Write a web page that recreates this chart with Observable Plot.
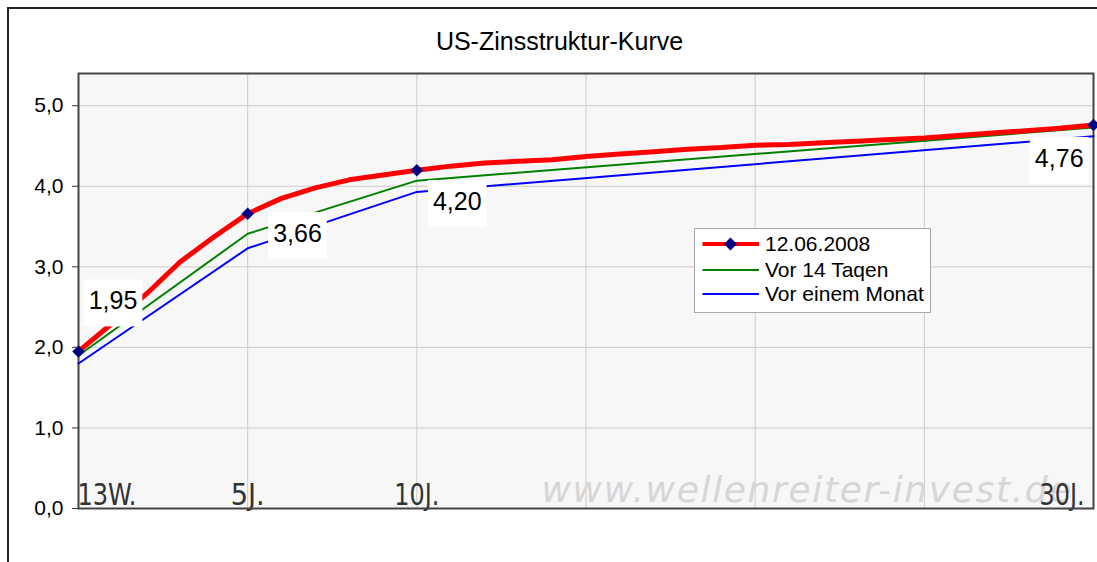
<!DOCTYPE html>
<html>
<head>
<meta charset="utf-8">
<script src="https://cdn.jsdelivr.net/npm/d3@7"></script>
<script src="https://cdn.jsdelivr.net/npm/@observablehq/plot@0.6"></script>
<style>
  html, body { margin: 0; padding: 0; background: #fff; overflow: hidden; width: 1097px; height: 562px; }
  #outer { position: absolute; left: 7px; top: 7px; width: 1300px; height: 800px; border: 2px solid #222; box-sizing: border-box; }
  #chart { position: absolute; left: 0; top: 0; }
  #legend { position: absolute; left: 694px; top: 228px; }
</style>
</head>
<body>
<div id="outer"></div>
<div id="chart"></div>
<div id="legend"></div>
<script>
// ---- data ----
const maturities = ["13W","1J","2J","3J","4J","5J","6J","7J","8J","9J","10J","11J","12J","13J","14J","15J",
  "16J","17J","18J","19J","20J","21J","22J","23J","24J","25J","26J","27J","28J","29J","30J"];
const currentValues = [1.95, 2.30, 2.66, 3.06, 3.37, 3.66, 3.85, 3.98, 4.08, 4.14, 4.20, 4.25, 4.29, 4.31, 4.33, 4.37,
  4.40, 4.43, 4.46, 4.48, 4.51, 4.52, 4.54, 4.56, 4.58, 4.60, 4.63, 4.66, 4.69, 4.72, 4.76];
const keyMaturities = ["13W", "5J", "10J", "30J"];
const twoWeeksValues = [1.90, 3.41, 4.07, 4.73];
const oneMonthValues = [1.80, 3.23, 3.93, 4.62];
const seriesNames = ["12.06.2008", "Vor 14 Taqen", "Vor einem Monat"];
const seriesColors = ["#ff0000", "#008000", "#0000ff"];
const xTickLabels = ["13W.", "5J.", "10J.", "30J."];
const yTicks = [0, 1, 2, 3, 4, 5];
const xGrid = ["13W", "5J", "10J", "15J", "20J", "25J", "30J"];
const title = "US-Zinsstruktur-Kurve";
const watermark = "www.wellenreiter-invest.de";

// ---- layout config (not data) ----
const labelOffsets = [[34.5, -50], [49.8, 20.4], [40.4, 31.8], [-34.3, 33.9]];
const xLabelAnchors = ["start", "middle", "middle", "end"];
const xLabelDx = [-1, 0, 0, -9];
const xLabelWidths = [59, 34, 45, 45];

const idx = m => maturities.indexOf(m);
const current = maturities.map((m, k) => ({i: idx(m), v: currentValues[k]}));
const twoWeeks = keyMaturities.map((m, k) => ({i: idx(m), v: twoWeeksValues[k]}));
const oneMonth = keyMaturities.map((m, k) => ({i: idx(m), v: oneMonthValues[k]}));
const currentKey = keyMaturities.map(m => ({i: idx(m), v: currentValues[idx(m)]}));
const fmt = (d, n) => d.toFixed(n).replace(".", ",");
const valueLabels = currentKey.map(d => fmt(d.v, 2));

const sans = "'Liberation Sans', Arial, Helvetica, sans-serif";
const narrow = "'Liberation Sans Narrow', 'DejaVu Sans Condensed', 'Arial Narrow', sans-serif";

const marks = [
  Plot.frame({fill: "#f7f7f7"}),
  Plot.gridX(xGrid.map(idx), {stroke: "#cccccc", strokeOpacity: 1, strokeWidth: 1}),
  Plot.gridY(yTicks.filter(d => d > 0), {stroke: "#cccccc", strokeOpacity: 1, strokeWidth: 1}),
  Plot.text([watermark], {frameAnchor: "bottom-right", dx: -22, dy: -7, textAnchor: "end", lineAnchor: "bottom",
    fontSize: 36, fontStyle: "italic", fontFamily: "'DejaVu Sans', Verdana, sans-serif", fill: "#d6d6d6"}),
  ...xTickLabels.map((t, k) => Plot.text([{i: idx(keyMaturities[k]), t}], {
    x: "i", text: "t", frameAnchor: "bottom", dy: -3.5, dx: xLabelDx[k], lineAnchor: "bottom",
    textAnchor: xLabelAnchors[k], fontSize: 30, fontFamily: narrow, fill: "#333"})),
  Plot.frame({stroke: "#444", strokeWidth: 2}),
  Plot.line(oneMonth, {x: "i", y: "v", stroke: seriesColors[2], strokeWidth: 2}),
  Plot.line(twoWeeks, {x: "i", y: "v", stroke: seriesColors[1], strokeWidth: 2}),
  Plot.line(current, {x: "i", y: "v", stroke: seriesColors[0], strokeWidth: 5, strokeLinejoin: "round"}),
  Plot.dot(currentKey, {x: "i", y: "v", symbol: "diamond2", r: 5.6, fill: "#000080", stroke: "none"}),
  ...currentKey.map((d, k) => Plot.text([d], {
    x: "i", y: "v", text: () => valueLabels[k], dx: labelOffsets[k][0], dy: labelOffsets[k][1],
    lineAnchor: "middle", textAnchor: "middle", fontSize: 25, fontFamily: sans, fill: "#000"})),
  Plot.axisY({ticks: yTicks, tickFormat: d => fmt(d, 1), tickSize: 6, tickPadding: 9, fontSize: 21,
    fontFamily: sans, fill: "#000", stroke: "#333", label: null}),
  Plot.text([title], {frameAnchor: "top", dx: -26.5, dy: -24, lineAnchor: "bottom", fontSize: 25, fontFamily: sans, fill: "#000"})
];

const plot = Plot.plot({
  width: 1097, height: 562,
  marginLeft: 78, marginRight: 4, marginTop: 73, marginBottom: 54,
  x: {domain: [0, 30], axis: null},
  y: {domain: [0, 5.4], axis: null},
  style: {background: "transparent", fontFamily: sans, overflow: "visible"},
  marks
});
document.getElementById("chart").appendChild(plot);

// white boxes behind value labels, width fitting for tick labels and watermark
d3.select(plot).selectAll("text").each(function() {
  const s = this.textContent;
  if (valueLabels.includes(s)) {
    const b = this.getBBox();
    const r = document.createElementNS("http://www.w3.org/2000/svg", "rect");
    r.setAttribute("x", b.x - 5);
    r.setAttribute("y", b.y - 7);
    r.setAttribute("width", b.width + 10);
    r.setAttribute("height", b.height + 19);
    r.setAttribute("fill", "#fff");
    const tr = this.getAttribute("transform");
    if (tr) r.setAttribute("transform", tr);
    this.parentNode.insertBefore(r, this);
  } else if (s === watermark) {
    this.setAttribute("textLength", 530);
    this.setAttribute("lengthAdjust", "spacing");
  } else if (xTickLabels.includes(s)) {
    this.setAttribute("textLength", xLabelWidths[xTickLabels.indexOf(s)]);
    this.setAttribute("lengthAdjust", "spacingAndGlyphs");
  }
});

// legend
const lg = d3.select("#legend").append("svg").attr("width", 238).attr("height", 86)
  .style("font-family", sans).style("display", "block");
lg.append("rect").attr("x", 0.5).attr("y", 0.5).attr("width", 236).attr("height", 84)
  .attr("fill", "#fff").attr("stroke", "#aaa");
const rowY = [16, 42, 66];
const rowW = [4, 2, 2];
seriesNames.forEach((name, k) => {
  lg.append("line").attr("x1", 8.5).attr("x2", 65).attr("y1", rowY[k]).attr("y2", rowY[k])
    .attr("stroke", seriesColors[k]).attr("stroke-width", rowW[k]);
  if (k === 0) {
    lg.append("path").attr("d", d3.symbol(d3.symbolDiamond2, Math.PI * 5.8 * 5.8)())
      .attr("transform", `translate(36.5,${rowY[k]})`).attr("fill", "#000080");
  }
  lg.append("text").attr("x", 71).attr("y", rowY[k] + 7).attr("font-size", 21).attr("fill", "#000").text(name);
});
</script>
</body>
</html>
